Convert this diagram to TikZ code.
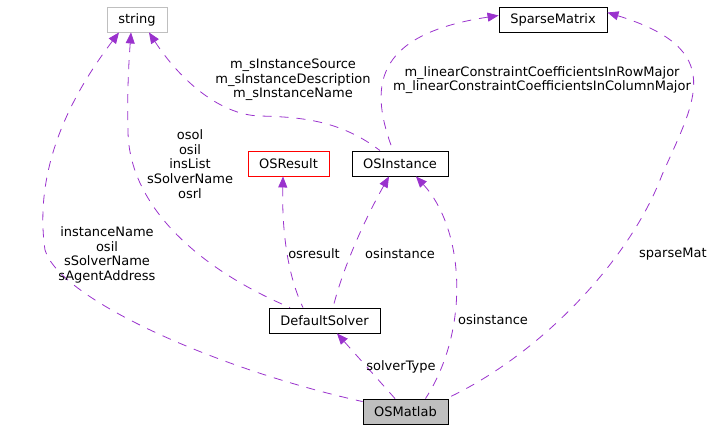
\documentclass[tikz,border=0pt]{standalone}
\usepackage{fontspec}
\setmainfont{DejaVu Sans}
\usetikzlibrary{arrows.meta}
\definecolor{edgec}{HTML}{9A32CD}
\definecolor{graybox}{HTML}{BFBFBF}
\begin{document}
\begin{tikzpicture}[x=1pt,y=-1pt,
  every node/.style={font=\fontsize{13}{14.7}\selectfont},
  cls/.style={draw=black, line width=0.9pt, minimum height=25pt, inner sep=0pt, anchor=center},
  lbl/.style={align=center, inner sep=0pt},
  uses/.style={draw=edgec, line width=0.8pt, dash pattern=on 9pt off 8pt, {Triangle[length=11pt,width=9pt]}-}
]
\useasboundingbox (0,0) rectangle (711,429);
% nodes
\node[cls, draw=graybox, minimum width=60pt] (string) at (137,19.5) {string};
\node[cls, minimum width=108pt] (sparse) at (553,19.5) {SparseMatrix};
\node[cls, draw=red, minimum width=81pt] (osresult) at (288.5,163.5) {OSResult};
\node[cls, minimum width=96pt] (osinstance) at (400,163.5) {OSInstance};
\node[cls, minimum width=111pt] (solver) at (324.5,320.5) {DefaultSolver};
\node[cls, fill=graybox, minimum width=85pt] (matlab) at (405.5,411.5) {OSMatlab};
% edges
\draw[uses] ([xshift=-18pt]string.south) .. controls (60,110) and (35,180) .. (45,250)
  .. controls (60,300) and (220,370) .. ([yshift=-3pt]matlab.north west);
\draw[uses] ([xshift=-6pt]string.south) .. controls (129,60) and (127,90) .. (128,130)
  .. controls (128,200) and (190,265) .. ([xshift=-34.5pt]solver.north);
\draw[uses] ([xshift=12pt]string.south) .. controls (180,80) and (220,115) .. (260,116)
  .. controls (300,117) and (340,120) .. ([xshift=-20pt]osinstance.north);
\draw[uses] ([yshift=4pt]sparse.west) .. controls (370,35) and (370,90) .. ([xshift=-7pt]osinstance.north);
\draw[uses] ([xshift=-5.5pt]osresult.south) .. controls (282,220) and (285,270) .. ([xshift=-21.5pt]solver.north);
\draw[uses] ([xshift=-11pt]osinstance.south) .. controls (370,210) and (345,260) .. ([xshift=8.5pt]solver.north);
\draw[uses] ([xshift=16pt]osinstance.south) .. controls (465,230) and (470,330) .. ([xshift=20pt]matlab.north);
\draw[uses] ([xshift=12.5pt]solver.south) -- ([xshift=-10.5pt]matlab.north);
\draw[uses] ([yshift=7pt]sparse.east) .. controls (728,50) and (695,100) .. (662,175)
  .. controls (630,260) and (540,355) .. ([xshift=-2pt]matlab.north east);
% labels
\node[lbl] (l1) at (107,255) {instanceName\\osil\\sSolverName\\sAgentAddress};
\node[lbl] (l2) at (190,164) {osol\\osil\\insList\\sSolverName\\osrl};
\node[lbl] (l3) at (293,80) {m\_sInstanceSource\\m\_sInstanceDescription\\m\_sInstanceName};
\node[lbl] (l4) at (542,80) {m\_linearConstraintCoefficientsInRowMajor\\m\_linearConstraintCoefficientsInColumnMajor};
\node[lbl] (l5) at (314,254) {osresult};
\node[lbl] (l6) at (400,254) {osinstance};
\node[lbl] (l7) at (493,320) {osinstance};
\node[lbl] (l8) at (401,367) {solverType};
\node[lbl, anchor=west] (l9) at (639,254) {sparseMat};
\end{tikzpicture}
\end{document}
